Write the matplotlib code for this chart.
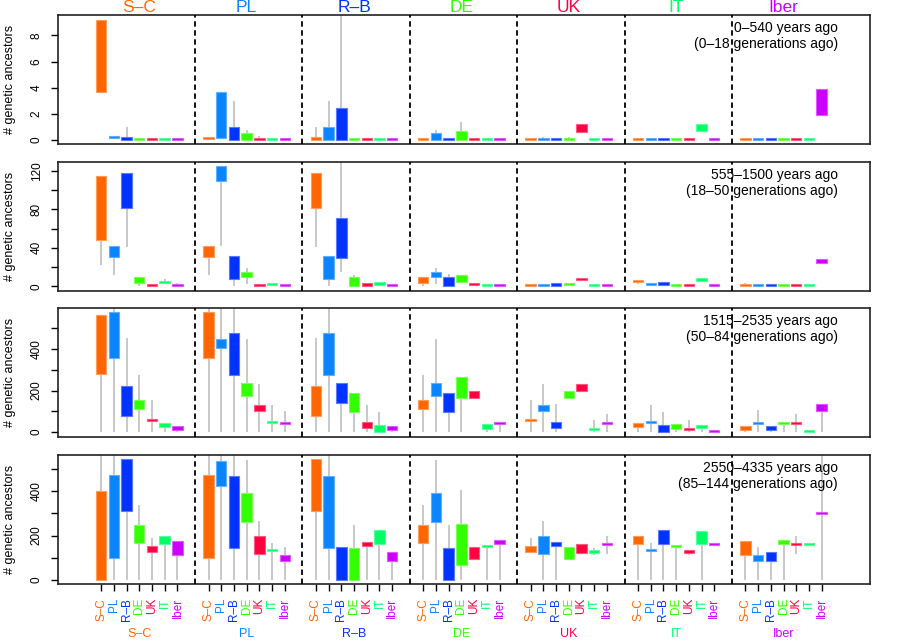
import numpy as np
import matplotlib.pyplot as plt
from matplotlib.patches import Rectangle
from matplotlib.colors import to_rgb

plt.rcParams['font.family'] = ['Liberation Sans', 'DejaVu Sans']

# populations (groups along x, and the boxes inside each group)
pops = ['S\u2013C', 'PL', 'R\u2013B', 'DE', 'UK', 'IT', 'Iber']
pop_colors = ['#FF6600', '#0A84FF', '#0033FF', '#33FF00', '#FF0040', '#00FF66', '#CC00FF']

periods = ['0\u2013540 years ago\n(0\u201318 generations ago)',
           '555\u20131500 years ago\n(18\u201350 generations ago)',
           '1515\u20132535 years ago\n(50\u201384 generations ago)',
           '2550\u20134335 years ago\n(85\u2013144 generations ago)']

# each cell: (whisker low, box low, box high, whisker high); one row per group
p1 = [
    [(3.7, 3.7, 9.2, 9.2), (0.1, 0.12, 0.2, 0.2), (0, 0, 0.25, 1.0), (0, 0, 0.1, 0.1), (0, 0, 0.05, 0.05), (0, 0, 0.05, 0.05), (0, 0, 0.05, 0.05)],
    [(0.1, 0.1, 0.2, 0.2), (0.15, 0.18, 3.65, 3.65), (0, 0, 1.0, 2.95), (0, 0, 0.5, 0.8), (0, 0, 0.1, 0.3), (0, 0, 0.05, 0.05), (0, 0, 0.05, 0.05)],
    [(0, 0, 0.25, 1.0), (0, 0, 1.0, 2.95), (0, 0, 2.45, 10), (0, 0, 0.05, 0.05), (0, 0, 0.05, 0.05), (0, 0, 0.05, 0.05), (0, 0, 0.1, 0.1)],
    [(0, 0, 0.1, 0.1), (0, 0, 0.5, 0.8), (0, 0, 0.05, 0.05), (0, 0, 0.7, 1.35), (0, 0, 0.05, 0.05), (0, 0, 0.05, 0.05), (0, 0, 0.05, 0.05)],
    [(0, 0, 0.05, 0.05), (0, 0, 0.05, 0.25), (0, 0, 0.05, 0.05), (0, 0, 0.05, 0.2), (0.59, 0.59, 1.23, 1.23), (0, 0, 0.05, 0.05), (0, 0, 0.05, 0.05)],
    [(0, 0, 0.05, 0.05), (0, 0, 0.05, 0.05), (0, 0, 0.05, 0.05), (0, 0, 0.05, 0.05), (0, 0, 0.05, 0.05), (0.72, 0.72, 1.2, 1.2), (0, 0, 0.05, 0.05)],
    [(0, 0, 0.05, 0.05), (0, 0, 0.05, 0.05), (0, 0, 0.1, 0.1), (0, 0, 0.05, 0.05), (0, 0, 0.05, 0.05), (0, 0, 0.05, 0.05), (1.9, 1.9, 3.9, 3.9)],
]
p2 = [
    [(21.9, 47.9, 114.8, 114.8), (11.4, 30.2, 42, 42), (40.9, 81.9, 118, 118), (0, 3.5, 9.4, 9.4), (0, 0, 1.4, 1.4), (2, 3.8, 5.9, 7.6), (0, 0, 1.2, 3.5)],
    [(11.4, 30.2, 42, 42), (42, 110, 125, 125), (0, 7.3, 31.9, 31.9), (2.8, 9.4, 14.9, 19.4), (0, 0.3, 2, 2), (0, 1, 2.8, 2.8), (0, 0, 1.4, 1.4)],
    [(40.9, 81.9, 118, 118), (0, 7.3, 31.9, 31.9), (14.9, 29.1, 71.5, 135), (0, 0, 9.4, 12), (0, 0.3, 3.5, 3.5), (0, 1, 4.5, 4.5), (0, 0, 1.4, 1.4)],
    [(0, 3.5, 9.4, 9.4), (2.8, 9.4, 14.9, 19.4), (0, 0, 9.4, 12.5), (4.5, 4.5, 12.1, 12.1), (0, 1, 2.8, 2.8), (0, 0.7, 2, 2), (0, 0, 1, 1)],
    [(0, 0, 1.4, 1.4), (0, 0.7, 2.4, 2.4), (0, 0.3, 3.5, 3.5), (1.4, 1.4, 3.1, 3.1), (6.9, 6.9, 8.7, 8.7), (0, 0, 1.7, 1.7), (0, 0, 1.7, 1.7)],
    [(2, 4.2, 6.2, 6.2), (1, 1, 2.8, 2.8), (1, 1, 4.9, 4.9), (0.7, 0.7, 2.8, 2.8), (0, 0, 1.7, 1.7), (5.9, 5.9, 8.7, 8.7), (0, 0, 1.4, 1.4)],
    [(0, 0, 1.4, 3.5), (0, 0, 1.4, 1.4), (0, 0, 1.4, 1.4), (0, 0, 1, 1), (0, 0, 1.4, 1.4), (0, 0, 1.4, 1.4), (24.6, 24.6, 28, 28)],
]
p3 = [
    [(0, 280, 566, 566), (0, 355, 579, 600), (0, 76, 222, 453), (0, 113, 153, 277), (0, 53, 59, 154), (0, 24, 43, 43), (0, 8, 31, 31)],
    [(0, 355, 579, 600), (0, 407, 450, 600), (0, 275, 476, 600), (0, 174, 235, 447), (0, 100, 129, 232), (0, 42, 51, 129), (0, 37, 47, 103)],
    [(0, 76, 222, 453), (0, 275, 476, 600), (0, 141, 235, 235), (0, 96, 186, 186), (0, 18, 47, 129), (0, 0, 35, 95), (0, 10, 29, 29)],
    [(0, 113, 153, 277), (0, 174, 235, 447), (0, 96, 186, 186), (0, 164, 265, 265), (166, 166, 196, 196), (0, 14, 37, 37), (0, 39, 50, 50)],
    [(0, 51, 59, 156), (0, 101, 129, 230), (0, 18, 47, 135), (166, 166, 196, 196), (199, 199, 230, 230), (0, 10, 19, 59), (0, 40, 50, 87)],
    [(0, 24, 43, 43), (0, 42, 51, 129), (0, 0, 35, 95), (0, 14, 37, 37), (0, 10, 19, 59), (0, 19, 32, 32), (0, 0, 6, 6)],
    [(0, 8, 31, 31), (0, 37, 47, 105), (0, 10, 29, 29), (0, 39, 50, 50), (0, 40, 50, 87), (0, 0, 6, 6), (0, 103, 137, 137)],
]
p4 = [
    [(0, 0, 403, 600), (0, 100, 475, 600), (0, 310, 545, 545), (0, 166, 249, 340), (0, 125, 154, 190), (0, 160, 199, 199), (0, 113, 173, 173)],
    [(0, 100, 475, 600), (0, 422, 537, 600), (0, 145, 469, 600), (0, 260, 393, 540), (0, 116, 196, 266), (0, 131, 139, 164), (0, 87, 110, 149)],
    [(0, 310, 545, 545), (0, 145, 469, 600), (0, 0, 149, 149), (0, 0, 142, 249), (0, 152, 169, 169), (0, 161, 224, 224), (0, 85, 124, 124)],
    [(0, 166, 249, 340), (0, 260, 393, 540), (0, 0, 142, 249), (0, 66, 254, 406), (93, 93, 149, 149), (0, 146, 155, 155), (0, 163, 182, 182)],
    [(125, 125, 154, 190), (0, 116, 196, 266), (0, 152, 169, 169), (93, 93, 149, 149), (119, 119, 160, 160), (110, 121, 134, 143), (116, 155, 161, 199)],
    [(0, 160, 199, 199), (0, 131, 139, 164), (0, 161, 224, 224), (0, 146, 155, 155), (110, 121, 134, 134), (0, 161, 221, 221), (158, 158, 166, 166)],
    [(0, 113, 173, 173), (0, 87, 110, 149), (0, 85, 124, 124), (0, 163, 182, 182), (116, 155, 161, 199), (158, 158, 166, 166), (0, 296, 306, 600)],
]
panels = [p1, p2, p3, p4]

ylims = [(-0.31, 9.56), (-4.9, 129.3), (-24, 598), (-19, 564)]
yticks = [[0, 2, 4, 6, 8], list(range(0, 121, 20)), list(range(0, 501, 100)), list(range(0, 501, 100))]
ylabeled = [[0, 2, 4, 6, 8], [0, 40, 80, 120], [0, 200, 400], [0, 200, 400]]

group_step = 8.45
box_w = 0.82
whisker_col = '#C8C8C8'


def lighter(c, f=0.35):
    r, g, b = to_rgb(c)
    return (r + (1 - r) * f, g + (1 - g) * f, b + (1 - b) * f)


fig = plt.figure(figsize=(9, 6.43), dpi=100)
bottoms = [0.776, 0.5474, 0.3204, 0.0918]
axes = [fig.add_axes([0.0644, b, 0.9022, 0.2006]) for b in bottoms]

for k, ax in enumerate(axes):
    data = panels[k]
    lo_lim, hi_lim = ylims[k]
    min_h = 2.0 * (hi_lim - lo_lim) / 129.0   # keep tiny boxes visible (~2px)
    for g in range(7):
        for j in range(7):
            x = g * group_step + j
            wlo, blo, bhi, whi = data[g][j]
            ax.plot([x, x], [wlo, whi], color=whisker_col, lw=1.4, zorder=1,
                    solid_capstyle='butt')
            h = max(bhi - blo, min_h)
            ax.add_patch(Rectangle((x - box_w / 2, blo), box_w, h,
                                   facecolor=pop_colors[j],
                                   edgecolor=lighter(pop_colors[j]),
                                   lw=0.8, zorder=2))
    for g in range(6):
        ax.axvline(g * group_step + 7.39, color='black', lw=1.3,
                   ls=(0, (3, 2)), zorder=3)

    ax.set_xlim(-3.4, 6 * group_step + 6 + 3.8)
    ax.set_ylim(lo_lim, hi_lim)
    ax.set_yticks(yticks[k])
    ax.set_yticklabels([str(t) if t in ylabeled[k] else '' for t in yticks[k]],
                       rotation=90, va='center', fontsize=8.5)
    ax.tick_params(axis='y', length=5, width=1, pad=6, direction='out')
    for s in ax.spines.values():
        s.set_linewidth(1.2)
        s.set_color('#222222')

    ax.text(0.9606, 0.95, periods[k], transform=ax.transAxes, ha='right',
            va='top', fontsize=10, linespacing=1.15, zorder=4)

    fig.text(10 / 900, bottoms[k] + 0.1003, '# genetic ancestors', rotation=90,
             ha='center', va='center', fontsize=9)

    if k < 3:
        ax.set_xticks([])
    else:
        pos = [g * group_step + j for g in range(7) for j in range(7)]
        ax.set_xticks(pos)
        ax.set_xticklabels(pops * 7, rotation=90, fontsize=8.5)
        for lab, j in zip(ax.get_xticklabels(), list(range(7)) * 7):
            lab.set_color(pop_colors[j])
        ax.tick_params(axis='x', length=5, width=1, pad=5)

# group names above the first panel and below the last one
for g in range(7):
    xc = g * group_step + 3
    axes[0].text(xc, 1.062, pops[g], transform=axes[0].get_xaxis_transform(),
                 ha='center', va='center', fontsize=12.5, color=pop_colors[g])
    axes[3].text(xc, -0.385, pops[g], transform=axes[3].get_xaxis_transform(),
                 ha='center', va='center', fontsize=9, color=pop_colors[g])

fig.savefig('out.png', dpi=100)
